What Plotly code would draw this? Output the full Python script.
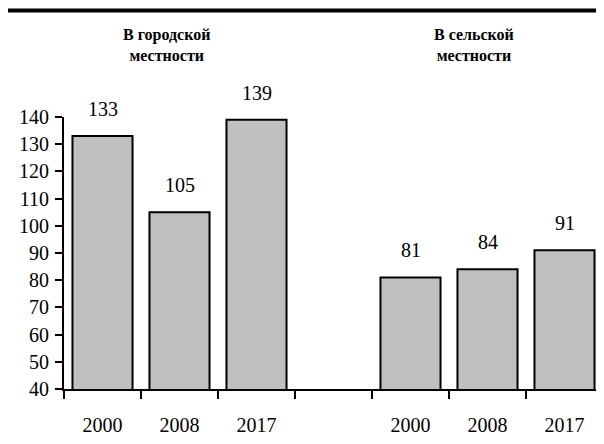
import plotly.graph_objects as go

years = ["2000", "2008", "2017"]
urban = [133, 105, 139]
rural = [81, 84, 91]
group_titles = ["В городской<br>местности", "В сельской<br>местности"]
y_ticks = [40, 50, 60, 70, 80, 90, 100, 110, 120, 130, 140]

x_urban = [0, 1, 2]
x_rural = [4, 5, 6]
xs = x_urban + x_rural
vals = urban + rural
labels = years + years

FONT = "Liberation Serif, DejaVu Serif"

OFF = 8
L, R, T, B = 64 - OFF, 1, 117 - OFF, 55
W, H = 604 - OFF, 444 - OFF
pw = W - L - R
ph = H - T - B
AX_BOTTOM = 389

fig = go.Figure()
fig.add_trace(go.Bar(
    x=xs, y=vals, width=0.78,
    marker=dict(color="#C0C0C0", line=dict(color="black", width=2)),
    hoverinfo="skip", showlegend=False,
))
fig.add_trace(go.Scatter(x=xs, y=vals, xaxis="x2", mode="markers",
                         marker=dict(opacity=0), showlegend=False, hoverinfo="skip"))

for x, v in zip(xs, vals):
    fig.add_annotation(x=x, y=v, text=str(v), showarrow=False, yanchor="bottom",
                       yshift=14, font=dict(family=FONT, size=20, color="black"))

title_px = [166, 474]
for t, px in zip(group_titles, title_px):
    fig.add_annotation(xref="paper", yref="paper", x=(px - 64) / pw, y=(AX_BOTTOM - 45) / ph,
                       text="<b>" + t + "</b>", showarrow=False, xanchor="center",
                       yanchor="middle", align="center",
                       font=dict(family=FONT, size=16, color="black"))

fig.add_shape(type="line", xref="paper", yref="paper",
              x0=-L / pw, x1=1 + R / pw,
              y0=1 + (T - 2.5) / ph, y1=1 + (T - 2.5) / ph,
              line=dict(color="black", width=4))

fig.update_layout(
    width=W, height=H,
    margin=dict(l=L, r=R, t=T, b=B, autoexpand=False),
    plot_bgcolor="white", paper_bgcolor="white",
    xaxis=dict(range=[-0.5, 6.5], tickvals=[-0.5 + i for i in range(8)],
               showticklabels=False, ticks="outside", ticklen=8, tickwidth=2,
               tickcolor="black", showline=True, linecolor="black", linewidth=2,
               showgrid=False, zeroline=False),
    xaxis2=dict(range=[-0.5, 6.5], overlaying="x", side="bottom", anchor="y",
                tickvals=xs, ticktext=labels, ticks="", showline=False,
                showgrid=False, zeroline=False, ticklabelstandoff=22,
                tickfont=dict(family=FONT, size=20, color="black")),
    yaxis=dict(range=[40, 140], tickvals=y_ticks, ticks="outside", ticklen=7,
               tickwidth=2, tickcolor="black", showline=True, linecolor="black",
               linewidth=2, showgrid=False, zeroline=False, ticklabelstandoff=2,
               tickfont=dict(family=FONT, size=20, color="black")),
    bargap=0.22,
)

fig.write_html("out.html")
